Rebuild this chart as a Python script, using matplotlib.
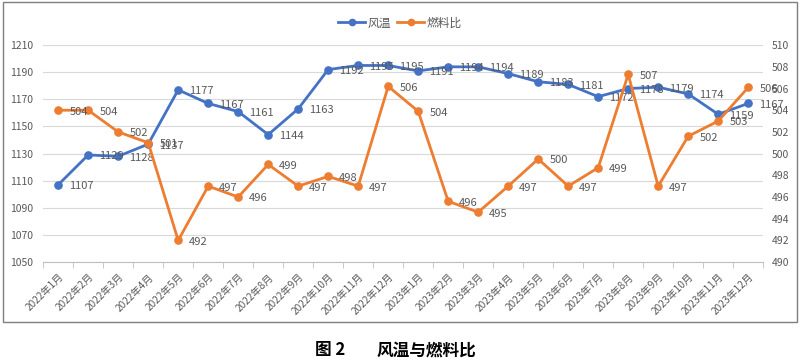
import matplotlib.pyplot as plt
from matplotlib.patches import Rectangle
from matplotlib.lines import Line2D

plt.rcParams['font.family'] = ['Noto Sans CJK SC', 'DejaVu Sans']

# months on the x axis
months = ['2022年1月', '2022年2月', '2022年3月', '2022年4月', '2022年5月', '2022年6月',
          '2022年7月', '2022年8月', '2022年9月', '2022年10月', '2022年11月', '2022年12月',
          '2023年1月', '2023年2月', '2023年3月', '2023年4月', '2023年5月', '2023年6月',
          '2023年7月', '2023年8月', '2023年9月', '2023年10月', '2023年11月', '2023年12月']

# 风温 (left axis)
wind_temp = [1107, 1129, 1128, 1137, 1177, 1167, 1161, 1144, 1163, 1192, 1195, 1195,
             1191, 1194, 1194, 1189, 1183, 1181, 1172, 1178, 1179, 1174, 1159, 1167]

# 燃料比 (right axis)
fuel_ratio = [504.0, 504.0, 502.0, 501.0, 492.0, 497.0, 496.0, 499.0, 497.0, 497.9, 497.0, 506.2,
              503.9, 495.6, 494.6, 497.0, 499.5, 497.0, 498.7, 507.3, 497.0, 501.6, 503.0, 506.1]

left_ticks = list(range(1050, 1211, 20))
right_ticks = list(range(490, 511, 2))

blue = '#4472C4'
orange = '#ED7D31'
txt = '#595959'

fig = plt.figure(figsize=(8, 3.64), dpi=100)
ax = fig.add_axes([0.054, 0.280, 0.900, 0.596])
ax2 = ax.twinx()

x = list(range(len(months)))

ax.plot(x, wind_temp, color=blue, lw=2.0, marker='o', ms=5.2, zorder=3)
ax2.plot(x, fuel_ratio, color=orange, lw=2.0, marker='o', ms=5.2, zorder=3)

for i, v in enumerate(wind_temp):
    ax.annotate(str(v), (i, v), xytext=(8, -1), textcoords='offset points',
                ha='left', va='center', fontsize=8, color=txt)
for i, v in enumerate(fuel_ratio):
    ax2.annotate('%.0f' % v, (i, v), xytext=(8, -1), textcoords='offset points',
                 ha='left', va='center', fontsize=8, color=txt)

ax.set_xlim(-0.5, len(months) - 0.5)
ax.set_ylim(1050, 1210)
ax2.set_ylim(490, 510)
ax.set_yticks(left_ticks)
ax2.set_yticks(right_ticks)
ax.grid(axis='y', color='#D9D9D9', lw=0.8)
ax.set_axisbelow(True)

ax.set_xticks(x)
ax.set_xticklabels(months, rotation=45, ha='right', rotation_mode='anchor', fontsize=7.3, color=txt)
ax.set_xticks([i - 0.5 for i in range(len(months) + 1)], minor=True)
ax.tick_params(axis='x', which='major', length=0, pad=7)
ax.tick_params(axis='x', which='minor', length=4, color='#BFBFBF')
ax.tick_params(axis='y', length=0, labelsize=7.5, labelcolor=txt, pad=7)
ax2.tick_params(axis='y', length=0, labelsize=7.5, labelcolor=txt, pad=6)

for a in (ax, ax2):
    for s in ('top', 'left', 'right'):
        a.spines[s].set_visible(False)
    a.spines['bottom'].set_color('#BFBFBF')
ax2.spines['bottom'].set_visible(False)

handles = [Line2D([], [], color=blue, lw=2.0, marker='o', ms=4.5),
           Line2D([], [], color=orange, lw=2.0, marker='o', ms=4.5)]
fig.legend(handles, ['风温', '燃料比'], loc='center', bbox_to_anchor=(0.5, 0.937),
           ncol=2, frameon=False, fontsize=8.5, handlelength=2.3, columnspacing=0.5,
           handletextpad=0.2, labelcolor=txt)

# chart border
fig.patches.append(Rectangle((0.004, 0.116), 0.992, 0.879, transform=fig.transFigure,
                             fill=False, edgecolor='#7F7F7F', lw=1.0))

fig.text(0.394, 0.038, '图 2', fontsize=12, fontweight='bold', ha='left', va='center')
fig.text(0.471, 0.038, '风温与燃料比', fontsize=12, fontweight='bold', ha='left', va='center')

fig.savefig('out.png', dpi=100)
